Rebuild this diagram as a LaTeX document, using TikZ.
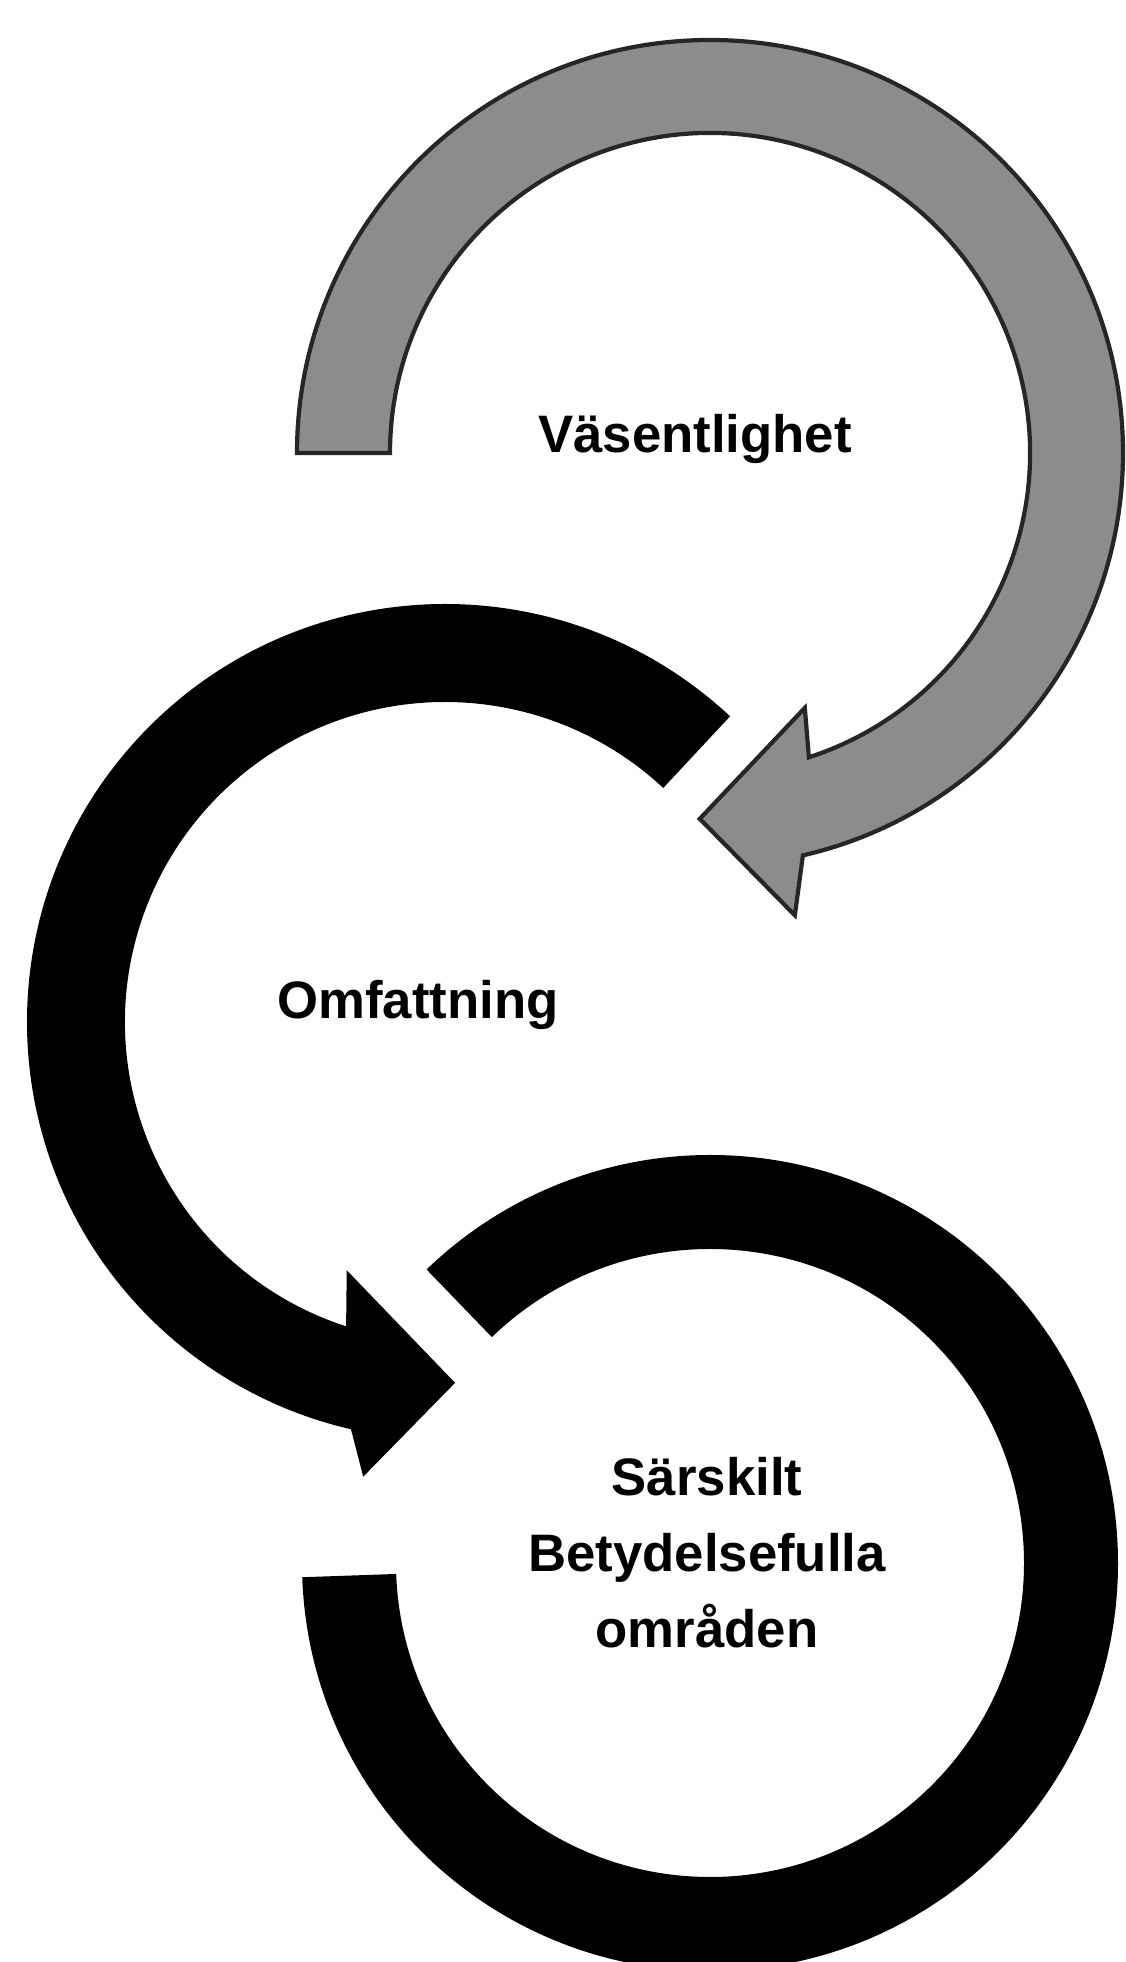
\documentclass[tikz,border=0pt]{standalone}
\usepackage{fontspec}
\setmainfont{Liberation Sans}

\begin{document}
\begin{tikzpicture}[
    font=\bfseries\fontsize{15}{21.6}\selectfont,
    band/.style={line join=miter},
    grayband/.style={band, fill=black!45, draw=black!85, line width=1.2pt},
    blackband/.style={band, fill=black},
    lab/.style={align=center, text=black, inner sep=0pt},
]
\useasboundingbox (0,0) rectangle (11.25,19.62);

% centres of the three loops
\coordinate (G) at (7.10,15.09);
\coordinate (M) at (4.45,9.40);
\coordinate (R) at (7.10,3.99);

% ---- top loop: grey, clockwise ----
\begin{scope}[shift={(G)}]
    \draw[grayband] (180:4.13) arc[start angle=180, end angle=-77, radius=4.13]
        -- (-79.6:4.70) -- (-91.6:3.66) -- (-69.6:2.72) -- (-72:3.20)
        arc[start angle=-72, end angle=180, radius=3.20] -- cycle;
\end{scope}

% ---- middle loop: black, anticlockwise ----
\begin{scope}[shift={(M)}]
    \fill[blackband] (47:4.18) arc[start angle=47, end angle=257, radius=4.18]
        -- (259.8:4.62) -- (271.6:3.61) -- (248.4:2.67) -- (252:3.20)
        arc[start angle=252, end angle=47, radius=3.20] -- cycle;
\end{scope}

% ---- bottom ring, no head ----
\begin{scope}[shift={(R)}]
    \fill[blackband] (182:4.08) arc[start angle=182, end angle=494, radius=4.08]
        -- (494:3.14) arc[start angle=494, end angle=182, radius=3.14] -- cycle;
\end{scope}

\node[lab, anchor=base] (vas) at (6.95,15.09) {Väsentlighet};
\node[lab, anchor=base] (omf) at (4.18,9.43) {Omfattning};
\node[lab] (sbo) at (7.07,4.09) {Särskilt\\Betydelsefulla\\områden};
\end{tikzpicture}
\end{document}
